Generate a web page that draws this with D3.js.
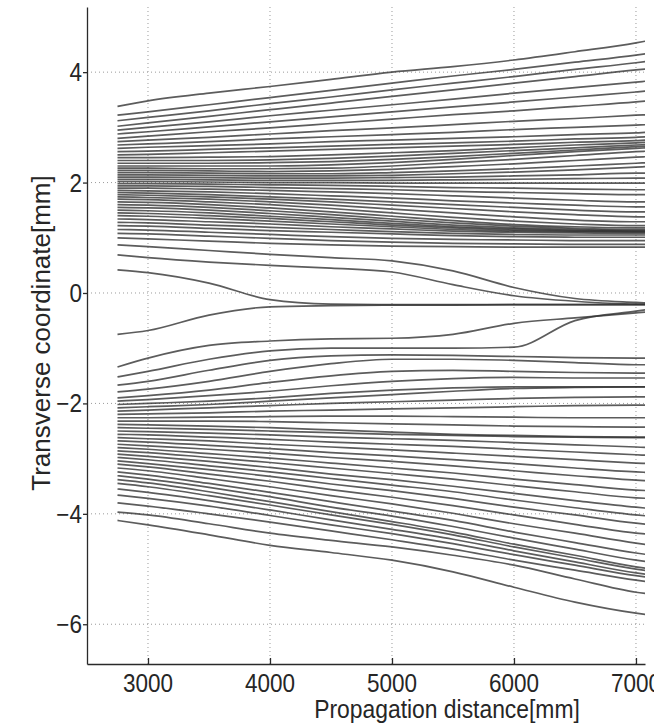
<!DOCTYPE html>
<html>
<head>
<meta charset="utf-8">
<script src="https://cdn.jsdelivr.net/npm/d3@7"></script>
<style>
  html, body { margin: 0; padding: 0; background: #fff; }
  text { font-family: 'Liberation Sans', Arial, sans-serif; fill: #262626; }
</style>
</head>
<body>
<script>
// propagation distance stations (mm) where each trace was read
const stations = [2750, 3000, 3500, 4000, 4500, 5000, 5500, 6000, 6500, 7000, 7100]

const xTicks = [3000, 4000, 5000, 6000, 7000]
const yTicks = [4, 2, 0, -2, -4, -6]

// upper beam, outer traces fanning upward
const upperFan = [
  [3.38, 3.48, 3.62, 3.74, 3.87, 4.0, 4.1, 4.22, 4.37, 4.53, 4.57],
  [3.22, 3.28, 3.41, 3.54, 3.67, 3.8, 3.93, 4.05, 4.18, 4.31, 4.34],
  [3.12, 3.18, 3.3, 3.43, 3.55, 3.68, 3.8, 3.92, 4.05, 4.17, 4.2],
  [3.02, 3.08, 3.2, 3.32, 3.44, 3.56, 3.68, 3.8, 3.92, 4.04, 4.06],
  [2.95, 3.0, 3.1, 3.21, 3.31, 3.41, 3.51, 3.62, 3.72, 3.82, 3.84],
  [2.88, 2.92, 3.01, 3.1, 3.19, 3.28, 3.37, 3.46, 3.55, 3.64, 3.66],
  [2.8, 2.84, 2.92, 2.99, 3.07, 3.15, 3.23, 3.3, 3.38, 3.46, 3.48],
  [2.74, 2.77, 2.82, 2.88, 2.94, 2.99, 3.05, 3.11, 3.16, 3.22, 3.23],
  [2.68, 2.7, 2.74, 2.79, 2.83, 2.87, 2.91, 2.96, 3.0, 3.04, 3.05],
  [2.62, 2.64, 2.67, 2.7, 2.74, 2.77, 2.8, 2.83, 2.87, 2.9, 2.91],
  [2.56, 2.57, 2.6, 2.63, 2.66, 2.69, 2.72, 2.75, 2.79, 2.82, 2.83],
  [2.5, 2.51, 2.54, 2.57, 2.6, 2.63, 2.66, 2.69, 2.73, 2.76, 2.77],
]

// upper beam core around 2 mm
const upperCore = [
  [2.45, 2.45, 2.46, 2.47, 2.5, 2.54, 2.58, 2.63, 2.68, 2.72, 2.73],
  [2.4, 2.4, 2.4, 2.41, 2.44, 2.48, 2.53, 2.58, 2.63, 2.68, 2.69],
  [2.35, 2.35, 2.35, 2.36, 2.38, 2.42, 2.47, 2.53, 2.59, 2.65, 2.66],
  [2.3, 2.3, 2.3, 2.3, 2.32, 2.36, 2.42, 2.49, 2.56, 2.62, 2.63],
  [2.26, 2.26, 2.25, 2.25, 2.26, 2.3, 2.36, 2.42, 2.49, 2.56, 2.57],
  [2.22, 2.22, 2.21, 2.2, 2.21, 2.24, 2.29, 2.34, 2.4, 2.46, 2.47],
  [2.18, 2.18, 2.17, 2.16, 2.16, 2.18, 2.21, 2.25, 2.3, 2.35, 2.36],
  [2.14, 2.14, 2.13, 2.12, 2.12, 2.13, 2.16, 2.19, 2.23, 2.28, 2.29],
  [2.1, 2.1, 2.09, 2.08, 2.08, 2.09, 2.1, 2.12, 2.14, 2.17, 2.17],
  [2.06, 2.06, 2.05, 2.04, 2.04, 2.04, 2.05, 2.06, 2.07, 2.08, 2.08],
  [2.02, 2.02, 2.01, 2.0, 2.0, 1.99, 1.99, 1.99, 1.99, 1.99, 1.99],
  [1.98, 1.98, 1.97, 1.96, 1.95, 1.93, 1.91, 1.9, 1.88, 1.87, 1.87],
  [1.94, 1.94, 1.93, 1.91, 1.89, 1.87, 1.84, 1.82, 1.8, 1.78, 1.78],
  [1.9, 1.9, 1.88, 1.86, 1.83, 1.8, 1.76, 1.72, 1.68, 1.65, 1.65],
  [1.86, 1.85, 1.83, 1.8, 1.76, 1.72, 1.67, 1.63, 1.59, 1.56, 1.56],
  [1.82, 1.81, 1.78, 1.74, 1.7, 1.65, 1.6, 1.55, 1.5, 1.47, 1.47],
]

// upper beam, inner traces settling near 1.1 mm
const upperLow = [
  [1.78, 1.77, 1.74, 1.7, 1.65, 1.59, 1.53, 1.47, 1.42, 1.38, 1.38],
  [1.74, 1.73, 1.7, 1.65, 1.59, 1.52, 1.45, 1.38, 1.32, 1.29, 1.29],
  [1.7, 1.69, 1.65, 1.6, 1.53, 1.45, 1.37, 1.3, 1.25, 1.22, 1.22],
  [1.65, 1.64, 1.6, 1.54, 1.47, 1.39, 1.31, 1.24, 1.2, 1.18, 1.18],
  [1.6, 1.59, 1.55, 1.49, 1.42, 1.34, 1.27, 1.21, 1.17, 1.15, 1.15],
  [1.55, 1.54, 1.5, 1.44, 1.37, 1.3, 1.23, 1.18, 1.15, 1.13, 1.13],
  [1.5, 1.49, 1.45, 1.39, 1.33, 1.26, 1.2, 1.16, 1.13, 1.12, 1.12],
  [1.45, 1.44, 1.4, 1.35, 1.29, 1.23, 1.18, 1.14, 1.12, 1.11, 1.11],
  [1.4, 1.39, 1.35, 1.3, 1.25, 1.2, 1.15, 1.12, 1.11, 1.1, 1.1],
  [1.34, 1.33, 1.29, 1.25, 1.2, 1.16, 1.12, 1.1, 1.09, 1.08, 1.08],
  [1.28, 1.27, 1.23, 1.19, 1.15, 1.11, 1.08, 1.06, 1.05, 1.05, 1.05],
  [1.22, 1.21, 1.17, 1.13, 1.1, 1.07, 1.04, 1.02, 1.01, 1.01, 1.01],
  [1.15, 1.14, 1.1, 1.06, 1.02, 0.99, 0.97, 0.96, 0.95, 0.95, 0.95],
  [1.08, 1.07, 1.03, 0.99, 0.95, 0.92, 0.9, 0.89, 0.88, 0.88, 0.88],
  [1.0, 0.98, 0.94, 0.9, 0.87, 0.85, 0.84, 0.83, 0.83, 0.83, 0.83],
]

// traces that cross into the gap and merge near -0.2 mm
const crossing = [
  [0.87, 0.84, 0.77, 0.7, 0.64, 0.58, 0.4, 0.1, -0.1, -0.17, -0.18],
  [0.69, 0.64, 0.56, 0.5, 0.45, 0.38, 0.15, -0.05, -0.15, -0.2, -0.2],
  [0.42, 0.37, 0.18, -0.12, -0.2, -0.21, -0.21, -0.21, -0.21, -0.21, -0.21],
  [-0.75, -0.68, -0.4, -0.25, -0.23, -0.22, -0.22, -0.21, -0.21, -0.21, -0.21],
  [-1.34, -1.18, -0.95, -0.87, -0.83, -0.82, -0.75, -0.55, -0.45, -0.36, -0.34],
  [-1.52, -1.42, -1.2, -1.05, -1.0, -1.0, -1.0, -0.98, -0.5, -0.33, -0.3],
]

// lower beam, traces rising toward -1.2 .. -2 mm
const lowerRise = [
  [-1.67, -1.6, -1.4, -1.22, -1.14, -1.12, -1.13, -1.15, -1.17, -1.18, -1.18],
  [-1.79, -1.74, -1.6, -1.42, -1.28, -1.2, -1.2, -1.22, -1.26, -1.3, -1.3],
  [-1.9, -1.86, -1.76, -1.62, -1.5, -1.42, -1.4, -1.42, -1.44, -1.45, -1.45],
  [-1.96, -1.93, -1.86, -1.78, -1.68, -1.6, -1.55, -1.53, -1.54, -1.54, -1.54],
  [-2.02, -2.0, -1.96, -1.9, -1.82, -1.76, -1.72, -1.7, -1.7, -1.7, -1.7],
  [-2.08, -2.06, -2.02, -1.96, -1.9, -1.84, -1.78, -1.73, -1.71, -1.7, -1.7],
  [-2.14, -2.12, -2.08, -2.04, -2.0, -1.97, -1.94, -1.91, -1.89, -1.88, -1.88],
  [-2.2, -2.19, -2.17, -2.14, -2.12, -2.1, -2.08, -2.06, -2.04, -2.03, -2.03],
  [-2.26, -2.26, -2.25, -2.24, -2.23, -2.23, -2.24, -2.25, -2.26, -2.26, -2.26],
]

// lower beam, traces fanning downward
const lowerFan = [
  [-2.32, -2.32, -2.32, -2.33, -2.35, -2.37, -2.39, -2.41, -2.42, -2.43, -2.43],
  [-2.38, -2.39, -2.41, -2.44, -2.48, -2.52, -2.56, -2.58, -2.6, -2.61, -2.61],
  [-2.44, -2.45, -2.47, -2.5, -2.53, -2.56, -2.58, -2.6, -2.61, -2.62, -2.62],
  [-2.5, -2.51, -2.54, -2.57, -2.61, -2.64, -2.67, -2.71, -2.75, -2.79, -2.8],
  [-2.56, -2.57, -2.61, -2.65, -2.7, -2.74, -2.78, -2.83, -2.88, -2.93, -2.94],
  [-2.62, -2.64, -2.68, -2.74, -2.79, -2.84, -2.9, -2.96, -3.02, -3.08, -3.09],
  [-2.68, -2.7, -2.76, -2.82, -2.89, -2.95, -3.02, -3.09, -3.17, -3.24, -3.25],
  [-2.74, -2.77, -2.83, -2.9, -2.98, -3.05, -3.13, -3.22, -3.31, -3.39, -3.4],
  [-2.8, -2.83, -2.91, -2.99, -3.08, -3.17, -3.26, -3.37, -3.47, -3.57, -3.58],
  [-2.86, -2.89, -2.98, -3.07, -3.17, -3.27, -3.37, -3.49, -3.6, -3.71, -3.72],
  [-2.92, -2.96, -3.05, -3.16, -3.28, -3.38, -3.5, -3.63, -3.76, -3.88, -3.9],
  [-2.98, -3.02, -3.13, -3.24, -3.36, -3.48, -3.6, -3.75, -3.89, -4.02, -4.04],
  [-3.04, -3.09, -3.2, -3.32, -3.46, -3.58, -3.72, -3.88, -4.02, -4.17, -4.19],
  [-3.1, -3.15, -3.28, -3.41, -3.56, -3.7, -3.85, -4.02, -4.19, -4.35, -4.37],
  [-3.17, -3.22, -3.36, -3.51, -3.67, -3.82, -3.99, -4.18, -4.35, -4.53, -4.56],
  [-3.24, -3.3, -3.45, -3.61, -3.78, -3.95, -4.12, -4.33, -4.52, -4.71, -4.74],
  [-3.31, -3.37, -3.52, -3.69, -3.88, -4.04, -4.23, -4.44, -4.64, -4.84, -4.87],
  [-3.38, -3.44, -3.6, -3.78, -3.96, -4.14, -4.33, -4.55, -4.75, -4.96, -4.99],
  [-3.45, -3.51, -3.67, -3.84, -4.02, -4.19, -4.38, -4.6, -4.8, -5.0, -5.03],
  [-3.55, -3.61, -3.76, -3.93, -4.11, -4.28, -4.46, -4.67, -4.87, -5.07, -5.1],
  [-3.66, -3.72, -3.86, -4.03, -4.2, -4.36, -4.54, -4.74, -4.93, -5.12, -5.15],
  [-3.8, -3.86, -4.0, -4.15, -4.31, -4.47, -4.64, -4.84, -5.02, -5.2, -5.23],
  [-3.97, -4.02, -4.18, -4.35, -4.48, -4.6, -4.75, -4.93, -5.18, -5.42, -5.45],
  [-4.12, -4.2, -4.38, -4.57, -4.7, -4.84, -5.05, -5.33, -5.6, -5.8, -5.83],
]

const traces = [].concat(upperFan, upperCore, upperLow, crossing, lowerRise, lowerFan)

const width = 654
const height = 726
const plotLeft = 87
const plotRight = 645
const plotTop = 7
const plotBottom = 664

const x = d3.scaleLinear()
    .domain([2500, 7074])
    .range([plotLeft, plotRight])

const y = d3.scaleLinear()
    .domain([-6.72, 5.18])
    .range([plotBottom, plotTop])

const svg = d3.select('body').append('svg')
    .attr('width', width)
    .attr('height', height)

svg.append('rect')
    .attr('width', width)
    .attr('height', height)
    .attr('fill', '#fff')

svg.append('clipPath')
    .attr('id', 'plot-clip')
  .append('rect')
    .attr('x', plotLeft)
    .attr('y', plotTop)
    .attr('width', plotRight - plotLeft)
    .attr('height', plotBottom - plotTop)

// dotted grid
const grid = svg.append('g')
    .attr('stroke', '#9a9a9a')
    .attr('stroke-width', 1)
    .attr('stroke-dasharray', '1,3')

grid.selectAll('.gx')
  .data(xTicks)
  .join('line')
    .attr('x1', d => x(d))
    .attr('x2', d => x(d))
    .attr('y1', plotTop)
    .attr('y2', plotBottom)

grid.selectAll('.gy')
  .data(yTicks)
  .join('line')
    .attr('x1', plotLeft)
    .attr('x2', plotRight)
    .attr('y1', d => y(d))
    .attr('y2', d => y(d))

// traces
const line = d3.line()
    .x((d, i) => x(stations[i]))
    .y(d => y(d))
    .curve(d3.curveMonotoneX)

svg.append('g')
    .attr('clip-path', 'url(#plot-clip)')
  .selectAll('path')
  .data(traces)
  .join('path')
    .attr('d', line)
    .attr('fill', 'none')
    .attr('stroke', '#333')
    .attr('stroke-opacity', 0.8)
    .attr('stroke-width', 1.7)

// axes
const xAxis = d3.axisBottom(x)
    .tickValues(xTicks)
    .tickSizeInner(-6)
    .tickSizeOuter(0)
    .tickFormat('')

const yAxis = d3.axisLeft(y)
    .tickValues(yTicks)
    .tickSizeInner(4)
    .tickSizeOuter(0)
    .tickFormat('')

svg.append('g')
    .attr('transform', `translate(0,${plotBottom})`)
    .call(xAxis)

svg.append('g')
    .attr('transform', `translate(${plotLeft},0)`)
    .call(yAxis)

svg.selectAll('.domain, .tick line')
    .attr('stroke', '#2a2a2a')
    .attr('stroke-width', 1.3)

// tick labels, slightly narrow like the source
svg.append('g')
  .selectAll('text')
  .data(xTicks)
  .join('text')
    .attr('transform', d => `translate(${x(d)},692) scale(0.9,1)`)
    .attr('text-anchor', 'middle')
    .attr('font-size', 25)
    .text(d => d)

svg.append('g')
  .selectAll('text')
  .data(yTicks)
  .join('text')
    .attr('transform', d => `translate(82,${y(d) + 9}) scale(0.9,1)`)
    .attr('text-anchor', 'end')
    .attr('font-size', 25)
    .text(d => d < 0 ? '\u2212' + Math.abs(d) : d)

svg.append('text')
    .attr('transform', 'translate(447,718) scale(0.88,1)')
    .attr('text-anchor', 'middle')
    .attr('font-size', 26)
    .text('Propagation distance[mm]')

svg.append('text')
    .attr('transform', 'translate(50,333) rotate(-90)')
    .attr('text-anchor', 'middle')
    .attr('font-size', 26)
    .text('Transverse coordinate[mm]')
</script>
</body>
</html>
